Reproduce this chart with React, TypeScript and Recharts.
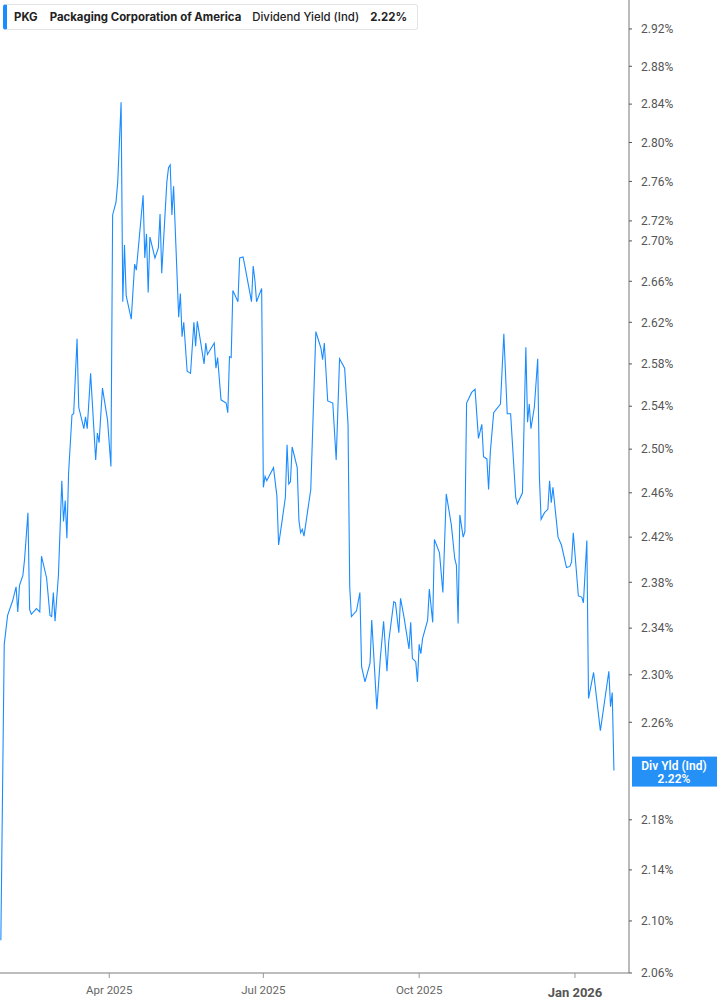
import React from "react";
import { LineChart, Line, XAxis, YAxis, ReferenceLine } from "recharts";

// PKG dividend yield (indicated), Jan 2025 - Jan 2026
const dates = [
  "2025-01-27", "2025-01-29", "2025-01-31", "2025-02-03", "2025-02-05", "2025-02-06", "2025-02-07", "2025-02-09",
  "2025-02-10", "2025-02-12", "2025-02-13", "2025-02-14", "2025-02-17", "2025-02-19", "2025-02-20", "2025-02-23",
  "2025-02-25", "2025-02-26", "2025-02-27", "2025-02-28", "2025-03-02", "2025-03-04", "2025-03-05", "2025-03-06",
  "2025-03-07", "2025-03-08", "2025-03-10", "2025-03-11", "2025-03-13", "2025-03-14", "2025-03-17", "2025-03-18",
  "2025-03-19", "2025-03-21", "2025-03-24", "2025-03-25", "2025-03-26", "2025-03-28", "2025-03-31", "2025-04-02",
  "2025-04-03", "2025-04-05", "2025-04-06", "2025-04-08", "2025-04-09", "2025-04-10", "2025-04-11", "2025-04-14",
  "2025-04-16", "2025-04-17", "2025-04-21", "2025-04-22", "2025-04-23", "2025-04-24", "2025-04-25", "2025-04-28",
  "2025-04-30", "2025-05-01", "2025-05-02", "2025-05-05", "2025-05-06", "2025-05-07", "2025-05-08", "2025-05-09",
  "2025-05-12", "2025-05-13", "2025-05-14", "2025-05-15", "2025-05-17", "2025-05-19", "2025-05-21", "2025-05-22",
  "2025-05-23", "2025-05-27", "2025-05-28", "2025-05-29", "2025-06-02", "2025-06-03", "2025-06-04", "2025-06-06",
  "2025-06-09", "2025-06-10", "2025-06-11", "2025-06-12", "2025-06-13", "2025-06-16", "2025-06-17", "2025-06-19",
  "2025-06-20", "2025-06-24", "2025-06-25", "2025-06-26", "2025-06-27", "2025-06-30", "2025-07-01", "2025-07-02",
  "2025-07-03", "2025-07-07", "2025-07-09", "2025-07-10", "2025-07-12", "2025-07-14", "2025-07-15", "2025-07-16",
  "2025-07-17", "2025-07-18", "2025-07-21", "2025-07-22", "2025-07-23", "2025-07-24", "2025-07-25", "2025-07-29",
  "2025-08-01", "2025-08-04", "2025-08-05", "2025-08-06", "2025-08-08", "2025-08-11", "2025-08-13", "2025-08-15",
  "2025-08-18", "2025-08-20", "2025-08-21", "2025-08-22", "2025-08-25", "2025-08-27", "2025-08-28", "2025-08-30",
  "2025-09-02", "2025-09-03", "2025-09-06", "2025-09-08", "2025-09-10", "2025-09-12", "2025-09-13", "2025-09-16",
  "2025-09-17", "2025-09-19", "2025-09-20", "2025-09-22", "2025-09-25", "2025-09-26", "2025-09-27", "2025-09-29",
  "2025-09-30", "2025-10-01", "2025-10-02", "2025-10-03", "2025-10-06", "2025-10-07", "2025-10-09", "2025-10-10",
  "2025-10-13", "2025-10-15", "2025-10-17", "2025-10-20", "2025-10-22", "2025-10-23", "2025-10-24", "2025-10-25",
  "2025-10-27", "2025-10-28", "2025-10-29", "2025-11-01", "2025-11-03", "2025-11-05", "2025-11-07", "2025-11-08",
  "2025-11-10", "2025-11-11", "2025-11-12", "2025-11-14", "2025-11-18", "2025-11-20", "2025-11-22", "2025-11-24",
  "2025-11-27", "2025-11-28", "2025-12-01", "2025-12-03", "2025-12-04", "2025-12-05", "2025-12-06", "2025-12-08",
  "2025-12-10", "2025-12-11", "2025-12-12", "2025-12-14", "2025-12-16", "2025-12-17", "2025-12-18", "2025-12-19",
  "2025-12-22", "2025-12-24", "2025-12-27", "2025-12-29", "2025-12-30", "2025-12-31", "2026-01-03", "2026-01-05",
  "2026-01-06", "2026-01-08", "2026-01-09", "2026-01-12", "2026-01-16", "2026-01-21", "2026-01-22", "2026-01-23",
  "2026-01-24",
];

const yields = [
  2.085, 2.326, 2.351, 2.364, 2.376, 2.354, 2.377, 2.386,
  2.400, 2.442, 2.356, 2.352, 2.357, 2.354, 2.403, 2.384,
  2.351, 2.350, 2.371, 2.346, 2.386, 2.471, 2.434, 2.453,
  2.419, 2.478, 2.532, 2.533, 2.604, 2.539, 2.519, 2.530,
  2.519, 2.571, 2.490, 2.515, 2.506, 2.557, 2.527, 2.484,
  2.726, 2.739, 2.759, 2.842, 2.640, 2.696, 2.646, 2.623,
  2.677, 2.671, 2.746, 2.683, 2.707, 2.649, 2.704, 2.683,
  2.693, 2.727, 2.668, 2.759, 2.774, 2.777, 2.726, 2.755,
  2.625, 2.648, 2.606, 2.620, 2.573, 2.571, 2.620, 2.597,
  2.621, 2.580, 2.600, 2.589, 2.600, 2.576, 2.586, 2.546,
  2.543, 2.534, 2.587, 2.586, 2.651, 2.640, 2.683, 2.684,
  2.676, 2.640, 2.675, 2.661, 2.640, 2.653, 2.465, 2.475,
  2.471, 2.483, 2.457, 2.413, 2.434, 2.456, 2.504, 2.468,
  2.470, 2.502, 2.483, 2.435, 2.424, 2.427, 2.421, 2.463,
  2.611, 2.595, 2.584, 2.600, 2.545, 2.543, 2.490, 2.585,
  2.576, 2.523, 2.376, 2.350, 2.355, 2.371, 2.307, 2.294,
  2.310, 2.347, 2.271, 2.313, 2.346, 2.303, 2.328, 2.363,
  2.362, 2.336, 2.366, 2.350, 2.322, 2.345, 2.314, 2.311,
  2.294, 2.326, 2.318, 2.331, 2.347, 2.374, 2.345, 2.418,
  2.406, 2.371, 2.459, 2.431, 2.401, 2.395, 2.344, 2.440,
  2.420, 2.425, 2.543, 2.553, 2.556, 2.510, 2.523, 2.493,
  2.491, 2.463, 2.497, 2.534, 2.542, 2.609, 2.533, 2.533,
  2.456, 2.450, 2.460, 2.596, 2.525, 2.542, 2.519, 2.539,
  2.585, 2.474, 2.436, 2.442, 2.445, 2.471, 2.451, 2.465,
  2.420, 2.413, 2.393, 2.394, 2.398, 2.424, 2.368, 2.367,
  2.362, 2.417, 2.280, 2.302, 2.253, 2.303, 2.273, 2.285,
  2.220,
];

const monthTicks = ["2025-04-01", "2025-07-01", "2025-10-01", "2026-01-01"];
const yieldTicks = [
  2.06, 2.1, 2.14, 2.18, 2.26, 2.3, 2.34, 2.38, 2.42, 2.46, 2.5,
  2.54, 2.58, 2.62, 2.66, 2.7, 2.72, 2.76, 2.8, 2.84, 2.88, 2.92,
];

const data = dates.map((d, i) => ({ t: Date.parse(d), v: yields[i] }));
const last = yields[yields.length - 1];

const BLUE = "#1a8cff";
const FONT = "Roboto, 'Noto Sans', sans-serif";
const MONTHS = ["Jan", "Feb", "Mar", "Apr", "May", "Jun", "Jul", "Aug", "Sep", "Oct", "Nov", "Dec"];

const MonthTick = (props: any) => {
  const { x, y, payload } = props;
  const d = new Date(payload.value);
  const isYear = d.getUTCMonth() === 0;
  return (
    <text
      x={x}
      y={y}
      dy={isYear ? 17 : 14}
      textAnchor="middle"
      fill={isYear ? "#555" : "#666"}
      fontSize={isYear ? 13 : 11.5}
      fontWeight={isYear ? 700 : 400}
      fontFamily={FONT}
    >
      {MONTHS[d.getUTCMonth()]} {d.getUTCFullYear()}
    </text>
  );
};

const LastLabel = (props: any) => {
  const { viewBox } = props;
  const left = viewBox.x + viewBox.width + 3;
  return (
    <g>
      <rect x={left} y={viewBox.y - 14} width={90} height={30} fill="#2590f5" />
      <text x={left + 42} y={viewBox.y - 1} textAnchor="middle" fill="#fff" fontSize={12} fontWeight={600} fontFamily={FONT}>
        Div Yld (Ind)
      </text>
      <text x={left + 42} y={viewBox.y + 12} textAnchor="middle" fill="#fff" fontSize={12} fontWeight={600} fontFamily={FONT}>
        {last.toFixed(2)}%
      </text>
    </g>
  );
};

export default function App() {
  return (
    <div style={{ position: "absolute", left: 0, top: 0, width: 717, height: 1005, background: "#fff", fontFamily: FONT }}>
      <LineChart width={717} height={1005} data={data} margin={{ top: 0, right: 0, bottom: 0, left: 0 }}>
        <XAxis
          dataKey="t"
          type="number"
          domain={[Date.parse("2025-01-26T12:00:00Z"), Date.parse("2026-02-01T21:36:00Z")]}
          ticks={monthTicks.map((m) => Date.parse(m))}
          tick={<MonthTick />}
          height={32}
          axisLine={{ stroke: "#bdbdbd", strokeWidth: 2 }}
          tickLine={{ stroke: "#999" }}
          tickSize={5}
        />
        <YAxis
          orientation="right"
          type="number"
          scale="log"
          domain={[2.06, 2.9514]}
          ticks={yieldTicks}
          interval={0}
          allowDataOverflow
          width={88}
          axisLine={{ stroke: "#777" }}
          tickLine={{ stroke: "#555" }}
          tickSize={3}
          tickMargin={9}
          tick={{ fill: "#555", fontSize: 12, fontFamily: FONT }}
          tickFormatter={(v: number) => `${v.toFixed(2)}%`}
        />
        <ReferenceLine y={last} stroke="none" ifOverflow="visible" label={<LastLabel />} />
        <Line
          type="linear"
          dataKey="v"
          stroke={BLUE}
          strokeWidth={1.1}
          dot={false}
          activeDot={false}
          isAnimationActive={false}
        />
      </LineChart>
      <div
        style={{
          position: "absolute",
          left: 3,
          top: 4,
          width: 415,
          height: 26,
          boxSizing: "border-box",
          border: "1px solid #e4e4e4",
          borderLeft: `4px solid ${BLUE}`,
          borderRadius: 3,
          background: "#fff",
          display: "flex",
          alignItems: "center",
          paddingLeft: 7,
          fontFamily: "Inter, Roboto, sans-serif",
          fontSize: 11.4,
          color: "#222",
          whiteSpace: "nowrap",
        }}
      >
        <span style={{ fontWeight: 700 }}>PKG</span>
        <span style={{ fontWeight: 700, marginLeft: 12 }}>Packaging Corporation of America</span>
        <span style={{ fontWeight: 500, marginLeft: 11 }}>Dividend Yield (Ind)</span>
        <span style={{ fontWeight: 700, marginLeft: 11 }}>2.22%</span>
      </div>
    </div>
  );
}
